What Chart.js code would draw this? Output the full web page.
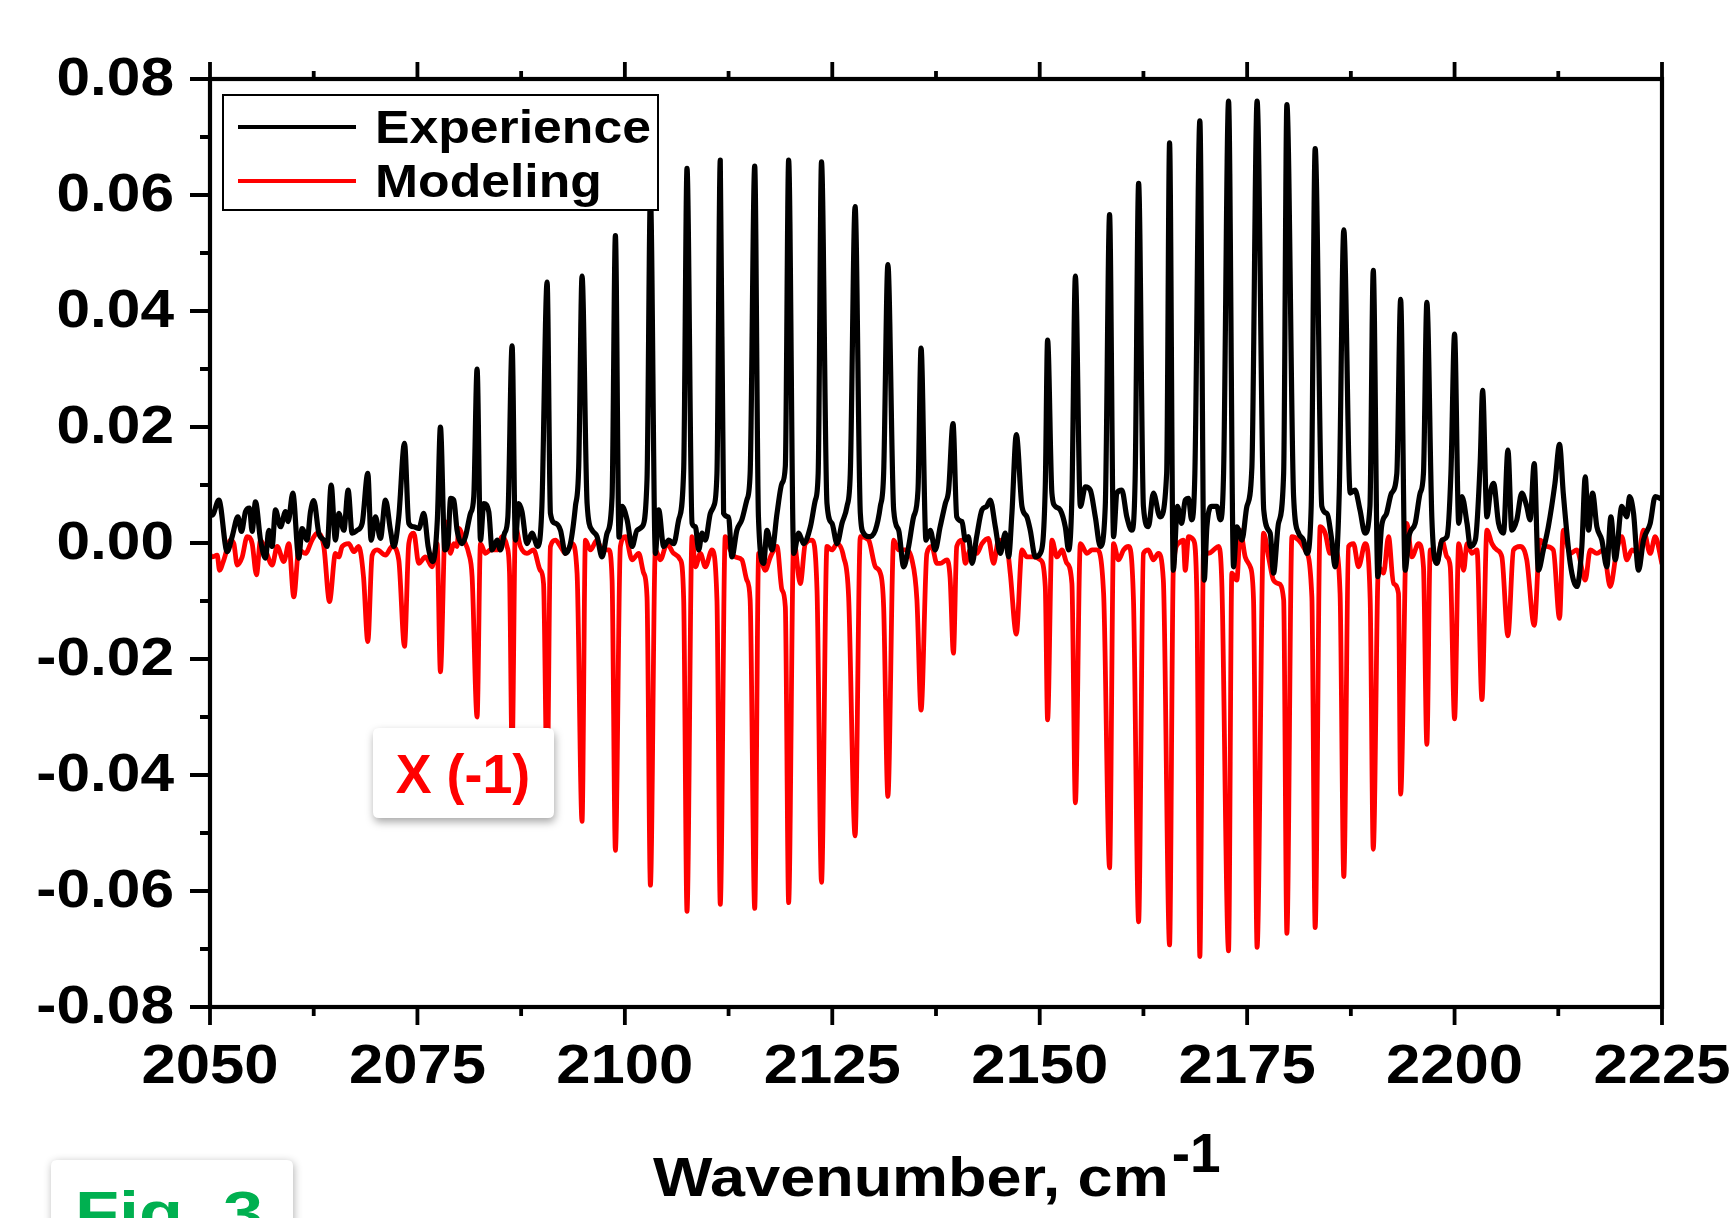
<!DOCTYPE html>
<html>
<head>
<meta charset="utf-8">
<script src="https://cdn.jsdelivr.net/npm/chart.js@4.4.1/dist/chart.umd.min.js"></script>
<style>
  html, body { margin: 0; padding: 0; background: #ffffff; }
  #wrap { width: 1729px; height: 1218px; position: relative; overflow: hidden; }
  canvas { display: block; }
</style>
</head>
<body>
<div id="wrap"><canvas id="c" width="1729" height="1218"></canvas></div>
<script>
// ---------------- DATA ----------------
const seriesNames = ['Experience', 'Modeling'];
const seriesColors = ['#000000', '#ff0000'];

const xTickValues = [2050, 2075, 2100, 2125, 2150, 2175, 2200, 2225];
const xTickLabels = ['2050', '2075', '2100', '2125', '2150', '2175', '2200', '2225'];
const xMinorValues = [2062.5, 2087.5, 2112.5, 2137.5, 2162.5, 2187.5, 2212.5];
const yTickValues = [0.08, 0.06, 0.04, 0.02, 0.00, -0.02, -0.04, -0.06, -0.08];
const yTickLabels = ['0.08', '0.06', '0.04', '0.02', '0.00', '-0.02', '-0.04', '-0.06', '-0.08'];
const yMinorValues = [0.07, 0.05, 0.03, 0.01, -0.01, -0.03, -0.05, -0.07];

const axisTitle = 'Wavenumber, cm';
const axisTitleSup = '-1';
const annotationText = 'X (-1)';
const figLabel = 'Fig. 3';

// [wavenumber, value]
const experience = [
[2050.0,0.0055],[2050.26,0.0048],[2051.07,0.0074],[2052.07,-0.0015],[2052.67,0.0011],[2053.36,0.0045],[2053.8,0.0020],[2054.28,0.0054],[2054.76,0.0060],[2055.08,0.0020],[2055.48,0.0071],[2056.09,0.0005],[2056.69,-0.0026],[2057.09,0.0022],[2057.49,-0.0006],[2057.89,0.0057],[2058.5,0.0028],[2059.1,0.0054],[2059.42,0.0037],[2059.98,0.0086],[2060.7,-0.0026],[2061.1,0.0025],[2061.71,0.0005],[2062.11,0.0054],[2062.51,0.0073],[2063.11,0.0017],[2063.72,0.0005],[2064.12,-0.0006],[2064.6,0.0100],[2065.12,0.0005],[2065.52,0.0051],[2066.13,0.0022],[2066.65,0.0091],[2067.13,0.0017],[2067.73,0.0022],[2068.34,0.0034],[2069.02,0.0120],[2069.42,0.0005],[2069.94,0.0045],[2070.54,0.0008],[2071.15,0.0074],[2071.75,0.0022],[2072.15,-0.0006],[2072.75,0.0045],[2073.44,0.0172],[2073.96,0.0034],[2074.56,0.0028],[2075.16,0.0025],[2075.77,0.0051],[2076.29,-0.0006],[2076.85,-0.0032],[2077.4,0.0040],[2077.77,0.0200],[2078.3,-0.0012],[2078.7,0.0005],[2079.0,0.0077],[2079.38,0.0074],[2079.78,0.0022],[2080.39,-0.0001],[2080.79,0.0011],[2081.39,0.0051],[2081.79,0.0080],[2082.19,0.0300],[2082.6,0.0005],[2083.0,0.0068],[2083.6,0.0054],[2084.0,-0.0012],[2084.6,0.0005],[2085.0,-0.0012],[2085.5,0.0017],[2085.9,0.0045],[2086.41,0.0340],[2086.81,0.0005],[2087.21,0.0068],[2087.6,0.0054],[2088.2,-0.0001],[2088.8,0.0017],[2089.5,-0.0006],[2090.0,0.0063],[2090.63,0.0450],[2091.03,0.0051],[2091.63,0.0034],[2092.24,0.0022],[2092.84,-0.0018],[2093.44,-0.0001],[2094.04,0.0063],[2094.44,0.0132],[2094.84,0.0460],[2095.45,0.0068],[2096.05,0.0022],[2096.65,0.0011],[2097.25,-0.0024],[2097.86,0.0017],[2098.46,0.0080],[2098.86,0.0530],[2099.3,0.0010],[2099.66,0.0063],[2100.27,0.0040],[2100.87,-0.0006],[2101.47,0.0022],[2102.07,0.0028],[2102.67,0.0109],[2103.08,0.0600],[2103.68,-0.0018],[2104.08,0.0057],[2104.68,-0.0006],[2105.29,0.0005],[2105.89,-0.0001],[2106.49,0.0040],[2107.09,0.0126],[2107.49,0.0646],[2108.1,0.0034],[2108.5,0.0028],[2108.9,-0.0012],[2109.3,0.0017],[2109.7,0.0005],[2110.3,0.0051],[2110.7,0.0063],[2111.1,0.0120],[2111.5,0.0660],[2111.9,0.0051],[2112.5,0.0045],[2112.9,-0.0024],[2113.5,0.0022],[2114.1,0.0040],[2114.7,0.0074],[2115.1,0.0120],[2115.65,0.0650],[2116.1,0.0045],[2116.73,-0.0035],[2117.13,0.0022],[2117.74,-0.0012],[2118.34,0.0051],[2118.94,0.0103],[2119.34,0.0132],[2119.74,0.0660],[2120.35,-0.0018],[2120.95,0.0017],[2121.55,-0.0001],[2122.36,0.0028],[2122.96,0.0074],[2123.3,0.0120],[2123.7,0.0657],[2124.36,0.0068],[2124.96,0.0034],[2125.57,-0.0001],[2126.17,0.0034],[2126.77,0.0063],[2127.17,0.0120],[2127.75,0.0580],[2128.38,0.0051],[2128.78,0.0017],[2129.38,0.0011],[2130.19,0.0022],[2130.79,0.0063],[2131.19,0.0120],[2131.7,0.0480],[2132.4,0.0057],[2133.0,0.0022],[2133.6,-0.0041],[2134.2,-0.0006],[2134.8,0.0045],[2135.33,0.0091],[2135.7,0.0336],[2136.29,0.0005],[2136.81,0.0022],[2137.4,-0.0012],[2138.0,0.0028],[2138.62,0.0068],[2139.02,0.0091],[2139.55,0.0206],[2140.0,0.0045],[2140.63,0.0037],[2141.03,0.0005],[2141.4,0.0011],[2141.84,-0.0035],[2142.4,0.0011],[2143.04,0.0057],[2143.6,0.0063],[2144.04,0.0074],[2144.65,0.0028],[2145.25,-0.0018],[2145.85,0.0017],[2146.25,-0.0024],[2146.65,0.0051],[2147.18,0.0187],[2147.86,0.0063],[2148.46,0.0045],[2148.86,0.0022],[2149.47,-0.0024],[2150.07,-0.0018],[2150.67,0.0097],[2150.95,0.0350],[2151.47,0.0086],[2151.9,0.0063],[2152.48,0.0057],[2153.08,0.0028],[2153.48,-0.0012],[2153.88,0.0080],[2154.3,0.0460],[2154.9,0.0063],[2155.5,0.0097],[2156.1,0.0091],[2156.7,0.0045],[2157.3,-0.0006],[2157.9,0.0063],[2158.42,0.0566],[2158.9,0.0011],[2159.3,0.0086],[2159.9,0.0091],[2160.5,0.0045],[2161.1,0.0022],[2161.5,0.0110],[2161.92,0.0620],[2162.5,0.0063],[2163.1,0.0028],[2163.7,0.0086],[2164.5,0.0045],[2165.3,0.0120],[2165.65,0.0690],[2166.1,-0.0047],[2166.6,0.0063],[2167.1,0.0034],[2167.54,0.0074],[2167.94,0.0077],[2168.3,0.0040],[2168.7,0.0120],[2169.3,0.0728],[2169.83,-0.0064],[2170.15,0.0028],[2170.75,0.0063],[2171.35,0.0063],[2171.76,0.0040],[2172.16,0.0120],[2172.76,0.0762],[2173.36,-0.0041],[2173.76,0.0028],[2174.37,0.0005],[2174.97,0.0063],[2175.57,0.0130],[2176.2,0.0762],[2177.0,0.0057],[2177.78,0.0017],[2178.18,-0.0052],[2178.78,0.0034],[2179.4,0.0120],[2179.79,0.0756],[2180.6,0.0080],[2181.2,0.0017],[2181.8,0.0005],[2182.2,-0.0018],[2182.72,0.0063],[2183.2,0.0680],[2184.0,0.0063],[2184.6,0.0051],[2185.2,0.0005],[2185.6,-0.0041],[2186.1,0.0086],[2186.65,0.0540],[2187.42,0.0086],[2188.0,0.0091],[2188.6,0.0057],[2189.2,0.0017],[2189.8,0.0063],[2190.2,0.0470],[2190.75,-0.0058],[2191.2,0.0028],[2191.8,0.0051],[2192.4,0.0086],[2193.04,0.0120],[2193.5,0.0420],[2194.04,-0.0047],[2194.5,0.0011],[2195.25,0.0034],[2195.85,0.0086],[2196.25,0.0120],[2196.66,0.0415],[2197.27,0.0040],[2197.87,-0.0035],[2198.48,0.0005],[2199.08,0.0011],[2199.56,0.0120],[2200.0,0.0360],[2200.5,0.0034],[2200.89,0.0080],[2201.5,0.0034],[2201.9,-0.0006],[2202.5,0.0005],[2203.09,0.0140],[2203.38,0.0263],[2203.9,0.0045],[2204.3,0.0086],[2204.7,0.0103],[2205.3,0.0034],[2205.9,0.0017],[2206.43,0.0160],[2206.9,0.0022],[2207.5,0.0040],[2208.1,0.0086],[2208.7,0.0063],[2209.1,0.0040],[2209.6,0.0137],[2210.1,-0.0047],[2210.7,-0.0012],[2211.3,0.0028],[2212.1,0.0103],[2212.65,0.0170],[2213.1,0.0086],[2213.94,-0.0035],[2214.74,-0.0075],[2215.34,-0.0006],[2215.75,0.0114],[2216.15,0.0022],[2216.63,0.0086],[2217.15,0.0028],[2217.75,0.0005],[2218.35,-0.0041],[2218.84,0.0045],[2219.36,-0.0029],[2220.16,0.0063],[2220.76,0.0045],[2221.09,0.0080],[2221.57,0.0051],[2222.17,-0.0047],[2222.77,0.0005],[2223.58,0.0034],[2224.18,0.0080],[2224.78,0.0077],[2225.0,0.0075]
];

const modeling = [
[2050.0,-0.0020],[2050.26,-0.0024],[2050.87,-0.0021],[2051.15,-0.0047],[2051.67,-0.0029],[2052.47,0.0005],[2052.87,-0.0001],[2053.28,-0.0038],[2053.88,-0.0024],[2054.48,0.0011],[2055.08,-0.0001],[2055.6,-0.0055],[2056.09,0.0005],[2056.69,-0.0012],[2057.49,-0.0038],[2058.1,-0.0006],[2058.9,-0.0032],[2059.5,-0.0001],[2060.1,-0.0093],[2060.7,-0.0012],[2061.5,-0.0018],[2062.3,0.0005],[2062.91,0.0017],[2063.72,-0.0006],[2064.4,-0.0101],[2065.12,-0.0018],[2065.52,-0.0024],[2065.93,-0.0006],[2066.73,-0.0001],[2067.33,-0.0015],[2067.93,-0.0006],[2068.5,-0.0058],[2069.02,-0.0170],[2069.54,-0.0021],[2070.14,-0.0012],[2071.15,-0.0021],[2071.95,-0.0006],[2072.75,-0.0029],[2073.44,-0.0178],[2073.96,-0.0001],[2074.56,0.0017],[2075.16,-0.0035],[2075.97,-0.0024],[2076.77,-0.0041],[2077.37,-0.0001],[2077.77,-0.0222],[2078.38,0.0037],[2078.98,-0.0018],[2079.38,-0.0001],[2079.78,-0.0006],[2079.98,0.0025],[2080.6,0.0005],[2081.19,-0.0018],[2081.59,-0.0058],[2082.19,-0.0300],[2082.6,-0.0001],[2083.2,-0.0018],[2083.8,-0.0012],[2084.6,-0.0012],[2085.2,0.0011],[2085.8,-0.0006],[2086.1,-0.0052],[2086.41,-0.0360],[2086.81,0.0028],[2087.41,-0.0006],[2088.2,-0.0018],[2089.0,-0.0012],[2089.8,-0.0047],[2090.2,-0.0070],[2090.63,-0.0420],[2091.03,-0.0006],[2091.63,0.0005],[2092.24,-0.0006],[2092.84,-0.0018],[2093.64,-0.0001],[2094.24,-0.0052],[2094.84,-0.0480],[2095.25,0.0005],[2095.85,-0.0012],[2096.65,0.0005],[2097.25,-0.0012],[2098.06,-0.0012],[2098.46,-0.0064],[2098.86,-0.0530],[2099.46,-0.0006],[2100.07,0.0011],[2100.87,-0.0029],[2101.67,-0.0018],[2102.27,-0.0052],[2102.67,-0.0093],[2103.08,-0.0590],[2103.68,-0.0012],[2104.28,-0.0029],[2105.09,-0.0001],[2105.89,-0.0018],[2106.69,-0.0029],[2107.09,-0.0098],[2107.49,-0.0635],[2108.1,0.0011],[2108.5,-0.0041],[2109.1,-0.0018],[2109.7,-0.0041],[2110.5,-0.0012],[2111.1,-0.0098],[2111.5,-0.0623],[2112.1,0.0011],[2112.7,-0.0012],[2113.3,-0.0024],[2114.1,-0.0029],[2114.7,-0.0064],[2115.1,-0.0098],[2115.65,-0.0630],[2116.13,-0.0018],[2116.93,-0.0047],[2117.54,-0.0024],[2118.34,-0.0006],[2118.94,-0.0081],[2119.34,-0.0110],[2119.74,-0.0620],[2120.35,0.0005],[2121.15,-0.0070],[2121.75,-0.0001],[2122.56,0.0005],[2123.16,-0.0081],[2123.7,-0.0585],[2124.36,-0.0006],[2124.96,-0.0012],[2125.57,-0.0001],[2126.37,-0.0024],[2126.97,-0.0093],[2127.75,-0.0505],[2128.38,0.0011],[2129.38,0.0005],[2130.19,-0.0041],[2130.79,-0.0052],[2131.19,-0.0110],[2131.7,-0.0437],[2132.4,0.0005],[2133.0,-0.0012],[2133.8,-0.0012],[2134.6,-0.0029],[2135.2,-0.0098],[2135.7,-0.0288],[2136.4,-0.0018],[2137.0,-0.0006],[2137.6,-0.0035],[2138.02,-0.0035],[2138.82,-0.0029],[2139.2,-0.0060],[2139.6,-0.0190],[2140.0,-0.0006],[2140.63,0.0005],[2141.03,-0.0035],[2141.63,-0.0012],[2142.42,-0.0018],[2143.04,-0.0001],[2143.8,0.0008],[2144.44,-0.0035],[2145.05,0.0005],[2146.05,-0.0006],[2146.45,-0.0052],[2147.18,-0.0157],[2147.86,-0.0012],[2148.46,-0.0024],[2149.27,-0.0024],[2150.07,-0.0029],[2150.67,-0.0075],[2150.95,-0.0305],[2151.47,0.0005],[2152.08,-0.0024],[2152.68,-0.0012],[2153.28,-0.0035],[2153.88,-0.0070],[2154.3,-0.0448],[2154.9,-0.0001],[2155.7,-0.0018],[2156.3,-0.0012],[2156.9,-0.0012],[2157.7,-0.0087],[2158.42,-0.0560],[2158.9,-0.0001],[2159.5,-0.0029],[2160.1,-0.0012],[2160.7,-0.0006],[2161.3,-0.0098],[2161.92,-0.0653],[2162.5,-0.0018],[2163.1,-0.0012],[2163.7,-0.0029],[2164.3,-0.0018],[2164.9,-0.0064],[2165.65,-0.0693],[2166.1,-0.0047],[2166.7,-0.0001],[2167.3,0.0005],[2167.54,-0.0047],[2167.94,0.0011],[2168.54,0.0005],[2168.95,-0.0098],[2169.3,-0.0713],[2169.75,-0.0012],[2170.35,-0.0018],[2170.95,-0.0012],[2171.56,-0.0006],[2171.96,-0.0075],[2172.76,-0.0703],[2173.16,-0.0052],[2173.76,-0.0064],[2174.17,0.0022],[2174.77,-0.0024],[2175.37,-0.0041],[2175.77,-0.0098],[2176.2,-0.0697],[2176.98,0.0017],[2177.58,-0.0024],[2178.18,-0.0064],[2178.78,-0.0070],[2179.4,-0.0098],[2179.79,-0.0673],[2180.4,0.0011],[2181.2,0.0005],[2182.0,-0.0012],[2182.8,-0.0093],[2183.2,-0.0663],[2183.8,0.0028],[2184.4,0.0017],[2185.0,-0.0018],[2185.6,-0.0012],[2186.2,-0.0087],[2186.65,-0.0575],[2187.22,-0.0006],[2187.82,-0.0001],[2188.42,-0.0041],[2189.23,-0.0001],[2189.83,-0.0098],[2190.2,-0.0528],[2190.83,-0.0041],[2191.44,-0.0052],[2192.04,0.0011],[2192.64,-0.0070],[2193.24,-0.0087],[2193.5,-0.0433],[2194.25,0.0034],[2194.85,-0.0024],[2195.65,-0.0001],[2196.25,-0.0041],[2196.66,-0.0347],[2197.07,-0.0012],[2197.87,-0.0035],[2198.48,0.0005],[2199.08,-0.0024],[2199.48,-0.0041],[2200.0,-0.0303],[2200.5,-0.0001],[2201.1,-0.0047],[2201.5,-0.0001],[2202.1,-0.0018],[2202.7,-0.0012],[2203.3,-0.0270],[2203.9,0.0022],[2204.5,-0.0001],[2205.1,-0.0012],[2205.7,-0.0024],[2206.43,-0.0160],[2207.1,-0.0012],[2207.9,-0.0006],[2208.7,-0.0029],[2209.6,-0.0142],[2210.3,0.0005],[2211.1,-0.0006],[2211.9,-0.0012],[2212.65,-0.0130],[2213.1,0.0022],[2213.94,-0.0018],[2214.74,-0.0012],[2215.75,-0.0064],[2216.35,-0.0012],[2217.15,-0.0018],[2217.95,-0.0012],[2218.76,-0.0075],[2219.56,-0.0012],[2220.16,0.0011],[2220.76,-0.0029],[2221.37,-0.0012],[2222.17,-0.0018],[2222.77,0.0022],[2223.58,-0.0018],[2224.18,0.0011],[2224.98,-0.0035]
];

// ---------------- DRAWING HELPERS ----------------
const FONT = '"Liberation Sans", Arial, Helvetica, sans-serif';
function drawText(ctx, s, x, y, size, sx, align, base, color) {
  ctx.save();
  ctx.font = 'bold ' + size + 'px ' + FONT;
  ctx.fillStyle = color;
  ctx.textAlign = align;
  ctx.textBaseline = base;
  ctx.translate(x, y);
  ctx.scale(sx, 1);
  ctx.fillText(s, 0, 0);
  ctx.restore();
}
function roundRect(ctx, x, y, w, h, r) {
  ctx.beginPath();
  ctx.moveTo(x + r, y);
  ctx.lineTo(x + w - r, y);
  ctx.quadraticCurveTo(x + w, y, x + w, y + r);
  ctx.lineTo(x + w, y + h - r);
  ctx.quadraticCurveTo(x + w, y + h, x + w - r, y + h);
  ctx.lineTo(x + r, y + h);
  ctx.quadraticCurveTo(x, y + h, x, y + h - r);
  ctx.lineTo(x, y + r);
  ctx.quadraticCurveTo(x, y, x + r, y);
  ctx.closePath();
}

const framePlugin = {
  id: 'frame',
  afterDatasetsDraw(chart) {
    const ctx = chart.ctx;
    const a = chart.chartArea;
    const xs = chart.scales.x, ys = chart.scales.y;
    ctx.save();
    ctx.strokeStyle = '#000';
    ctx.lineCap = 'butt';

    // ticks
    ctx.lineWidth = 3.8;
    ctx.beginPath();
    yTickValues.forEach(v => { const p = ys.getPixelForValue(v); ctx.moveTo(a.left - 20, p); ctx.lineTo(a.left, p); });
    yMinorValues.forEach(v => { const p = ys.getPixelForValue(v); ctx.moveTo(a.left - 10, p); ctx.lineTo(a.left, p); });
    xTickValues.forEach(v => { const p = xs.getPixelForValue(v);
      ctx.moveTo(p, a.bottom); ctx.lineTo(p, a.bottom + 18);
      ctx.moveTo(p, a.top); ctx.lineTo(p, a.top - 17); });
    xMinorValues.forEach(v => { const p = xs.getPixelForValue(v);
      ctx.moveTo(p, a.bottom); ctx.lineTo(p, a.bottom + 9);
      ctx.moveTo(p, a.top); ctx.lineTo(p, a.top - 8); });
    ctx.stroke();

    // frame
    ctx.lineWidth = 4.2;
    ctx.strokeRect(a.left, a.top, a.right - a.left, a.bottom - a.top);

    // tick labels
    yTickValues.forEach((v, i) => drawText(ctx, yTickLabels[i], a.left - 36, ys.getPixelForValue(v) + 1, 53, 1.14, 'right', 'middle', '#000'));
    xTickValues.forEach((v, i) => drawText(ctx, xTickLabels[i], xs.getPixelForValue(v), a.bottom + 76, 56, 1.1, 'center', 'alphabetic', '#000'));

    // axis title with superscript
    ctx.font = 'bold 55px ' + FONT;
    const sxT = 1.145;
    const tw = ctx.measureText(axisTitle).width * sxT;
    const tx = 653;
    drawText(ctx, axisTitle, tx, 1196, 55, sxT, 'left', 'alphabetic', '#000');
    drawText(ctx, axisTitleSup, tx + tw + 3, 1172, 55, 1.0, 'left', 'alphabetic', '#000');

    // legend box
    const lx = 223, ly = 95, lw = 435, lh = 115;
    ctx.fillStyle = '#fff';
    ctx.fillRect(lx, ly, lw, lh);
    ctx.lineWidth = 2;
    ctx.strokeStyle = '#000';
    ctx.strokeRect(lx, ly, lw, lh);
    const rows = [127, 181];
    seriesNames.forEach((name, i) => {
      ctx.strokeStyle = seriesColors[i];
      ctx.lineWidth = 4;
      ctx.beginPath();
      ctx.moveTo(238, rows[i]); ctx.lineTo(356, rows[i]);
      ctx.stroke();
      drawText(ctx, name, 375, rows[i] + 16, 47, 1.1, 'left', 'alphabetic', '#000');
    });

    // annotation "X (-1)"
    ctx.save();
    ctx.shadowColor = 'rgba(0,0,0,0.35)';
    ctx.shadowBlur = 8;
    ctx.shadowOffsetX = 1;
    ctx.shadowOffsetY = 4;
    ctx.fillStyle = '#fff';
    roundRect(ctx, 373, 728, 181, 90, 6);
    ctx.fill();
    ctx.restore();
    drawText(ctx, annotationText, 463, 793, 56, 0.96, 'center', 'alphabetic', '#ff0000');

    // Fig. 3 label box
    ctx.save();
    ctx.shadowColor = 'rgba(0,0,0,0.3)';
    ctx.shadowBlur = 8;
    ctx.shadowOffsetX = 1;
    ctx.shadowOffsetY = 2;
    ctx.fillStyle = '#fff';
    roundRect(ctx, 51, 1160, 242, 100, 6);
    ctx.fill();
    ctx.restore();
    drawText(ctx, figLabel, 75, 1233, 60, 1.2, 'left', 'alphabetic', '#00b050');

    ctx.restore();
  }
};

const toPoints = arr => arr.map(p => ({ x: p[0], y: p[1] }));

new Chart(document.getElementById('c'), {
  type: 'line',
  data: {
    datasets: [
      { label: seriesNames[0], data: toPoints(experience), borderColor: seriesColors[0], borderWidth: 5.2, pointRadius: 0, cubicInterpolationMode: 'monotone', borderJoinStyle: 'round', borderCapStyle: 'round' },
      { label: seriesNames[1], data: toPoints(modeling), borderColor: seriesColors[1], borderWidth: 4.8, pointRadius: 0, cubicInterpolationMode: 'monotone', borderJoinStyle: 'round', borderCapStyle: 'round' }
    ]
  },
  options: {
    responsive: false,
    devicePixelRatio: 1,
    animation: false,
    events: [],
    layout: { padding: { top: 79, right: 67, bottom: 0, left: 0 } },
    plugins: { legend: { display: false }, tooltip: { enabled: false }, title: { display: false } },
    scales: {
      x: {
        type: 'linear', min: 2050, max: 2225,
        ticks: { display: false }, grid: { display: false }, border: { display: false },
        afterFit: s => { s.height = 211; }
      },
      y: {
        type: 'linear', min: -0.08, max: 0.08,
        ticks: { display: false }, grid: { display: false }, border: { display: false },
        afterFit: s => { s.width = 210; }
      }
    }
  },
  plugins: [framePlugin]
});
</script>
</body>
</html>
